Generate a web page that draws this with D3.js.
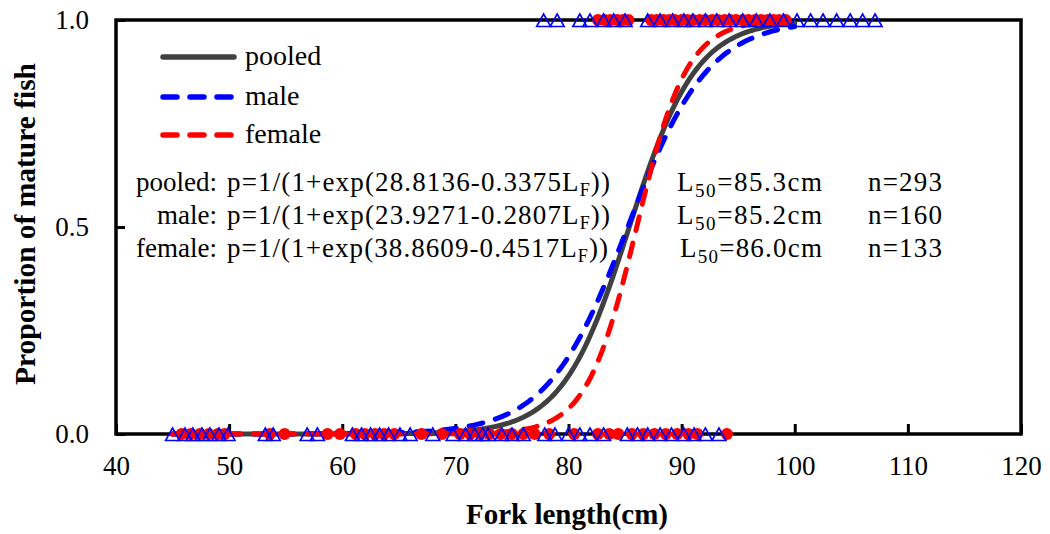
<!DOCTYPE html>
<html>
<head>
<meta charset="utf-8">
<script src="https://cdn.jsdelivr.net/npm/d3@7"></script>
<style>
  body { margin: 0; background: #fff; }
  svg text { font-family: "Times New Roman", "Liberation Serif", Tinos, "DejaVu Serif", serif; }
</style>
</head>
<body>
<script>
// Fork length (cm) of individual fish, immature (0) and mature (1)
const maleImmature = [45.0, 46.1, 46.8, 47.6, 48.3, 49.1, 49.9, 53.2, 53.9, 56.9, 57.8,
  60.9, 61.7, 62.5, 63.3, 64.1, 65.1, 66.0, 68.0, 69.8, 70.9, 71.7, 72.4, 72.9, 74.1,
  75.0, 76.0, 77.9, 78.8, 80.0, 81.0, 81.9, 83.1, 85.2, 86.1, 87.0, 88.1, 89.1, 90.2,
  91.1, 92.1, 93.3];
const femaleImmature = [45.8, 46.6, 47.4, 48.2, 49.0, 49.6, 53.6, 54.9, 58.7, 59.8,
  61.2, 62.0, 62.9, 63.7, 64.6, 67.0, 68.8, 70.4, 71.3, 72.2, 73.0, 74.0, 75.0, 76.0,
  77.0, 78.3, 80.5, 82.6, 83.6, 84.4, 85.6, 86.6, 87.6, 88.6, 89.6, 90.6, 91.4, 94.0];
const maleMature = [77.8, 79.0, 81.0, 81.9, 83.1, 84.0, 85.0, 87.0, 88.1, 89.2, 90.2,
  91.0, 92.1, 93.1, 94.2, 95.4, 96.6, 97.8, 99.0, 100.2, 101.4, 102.5, 103.7, 104.9,
  106.0, 107.1];
const femaleMature = [82.6, 83.2, 83.7, 84.3, 84.8, 85.3, 87.3, 87.8, 88.4, 88.9, 89.4,
  90.0, 90.5, 91.0, 91.6, 92.1, 92.7, 93.2, 93.8, 94.3, 94.8, 95.4, 95.9, 96.5, 97.0,
  97.6, 98.1, 98.6, 99.2];

// logistic fits as printed on the chart: p = 1/(1+exp(a - b*L))
const fitNames = ["pooled", "male", "female"];
const fitA = [28.8136, 23.9271, 38.8609];
const fitB = [0.3375, 0.2807, 0.4517];
const fitL50 = ["85.3", "85.2", "86.0"];
const fitN = [293, 160, 133];
const fitColors = ["#404040", "#0000ff", "#ff0000"];
const fitDash = [null, "14 13", "14 13"];

const xTicks = [40, 50, 60, 70, 80, 90, 100, 110, 120];
const yTicks = [0, 0.5, 1];

const FONT = "'Times New Roman', 'Liberation Serif', Tinos, 'DejaVu Serif', serif";
const W = 1050, H = 534;
const svg = d3.select("body").append("svg").attr("width", W).attr("height", H)
  .attr("font-family", FONT);

const x = d3.scaleLinear().domain([40, 120]).range([116, 1021]);
const y = d3.scaleLinear().domain([0, 1]).range([434, 20]);

// axes (ticks inside)
const xAxis = svg.append("g")
  .attr("transform", `translate(0,${y(0)})`)
  .call(d3.axisBottom(x).tickValues(xTicks).tickSizeInner(-10).tickSizeOuter(0).tickPadding(22));
const yAxis = svg.append("g")
  .attr("transform", `translate(${x(40)},0)`)
  .call(d3.axisLeft(y).tickValues(yTicks).tickFormat(d3.format(".1f"))
    .tickSizeInner(-9).tickSizeOuter(0).tickPadding(27));
[xAxis, yAxis].forEach(g => {
  g.attr("font-family", FONT).attr("font-size", 27);
  g.select(".domain").remove();
  g.selectAll("line").attr("stroke", "#000").attr("stroke-width", 3);
  g.selectAll("text").attr("fill", "#000");
});

// frame
svg.append("rect")
  .attr("x", x(40)).attr("y", y(1))
  .attr("width", x(120) - x(40)).attr("height", y(0) - y(1))
  .attr("fill", "none").attr("stroke", "#000").attr("stroke-width", 3.5);

// fitted curves
const curveX = d3.range(45, 100.01, 0.25);
const line = d3.line().x(d => x(d[0])).y(d => y(d[1]));
fitNames.forEach((name, i) => {
  const pts = curveX.map(L => [L, 1 / (1 + Math.exp(fitA[i] - fitB[i] * L))]);
  svg.append("path")
    .datum(pts)
    .attr("fill", "none")
    .attr("stroke", fitColors[i])
    .attr("stroke-width", 5)
    .attr("stroke-linecap", "round")
    .attr("stroke-dasharray", fitDash[i])
    .attr("d", line);
});

// observations
const tri = "M0,-7L7,5.5L-7,5.5Z";
function circles(vals, v) {
  svg.append("g").selectAll("circle").data(vals).join("circle")
    .attr("cx", d => x(d)).attr("cy", y(v)).attr("r", 6)
    .attr("fill", "#ff0000");
}
function triangles(vals, v) {
  svg.append("g").selectAll("path").data(vals).join("path")
    .attr("transform", d => `translate(${x(d)},${y(v) + 1})`)
    .attr("d", tri)
    .attr("fill", "none").attr("stroke", "#0000ff").attr("stroke-width", 1.6);
}
circles(femaleImmature, 0);
circles(femaleMature, 1);
triangles(maleImmature, 0);
triangles(maleMature, 1);

// legend
const legY = [57, 97, 135];
fitNames.forEach((name, i) => {
  svg.append("line")
    .attr("x1", 163).attr("x2", 234).attr("y1", legY[i]).attr("y2", legY[i])
    .attr("stroke", fitColors[i]).attr("stroke-width", 5.5)
    .attr("stroke-linecap", "round")
    .attr("stroke-dasharray", fitDash[i]);
  svg.append("text")
    .attr("x", 245).attr("y", legY[i] + 8)
    .attr("font-size", 28)
    .text(name);
});

// equations
const eqY = [191, 224, 257];
const formulaEnd = [610, 610, 608];
const l50Start = [677, 677, 680];
fitNames.forEach((name, i) => {
  svg.append("text")
    .attr("x", 217).attr("y", eqY[i]).attr("text-anchor", "end")
    .attr("font-size", 27).text(name + ":");
  const t = svg.append("text").attr("x", 227).attr("y", eqY[i]).attr("font-size", 27)
    .attr("textLength", formulaEnd[i] - 227).attr("lengthAdjust", "spacing");
  t.append("tspan").text(`p=1/(1+exp(${fitA[i].toFixed(4)}-${fitB[i].toFixed(4)}L`);
  t.append("tspan").attr("font-size", 18).attr("dy", 5).text("F");
  t.append("tspan").attr("dy", -5).text("))");

  const l = svg.append("text").attr("x", l50Start[i]).attr("y", eqY[i]).attr("font-size", 27)
    .attr("textLength", 822 - l50Start[i]).attr("lengthAdjust", "spacing");
  l.append("tspan").text("L");
  l.append("tspan").attr("font-size", 19).attr("dy", 6).text("50");
  l.append("tspan").attr("dy", -6).text(`=${fitL50[i]}cm`);

  svg.append("text").attr("x", 868).attr("y", eqY[i]).attr("font-size", 27)
    .attr("textLength", 74).attr("lengthAdjust", "spacing")
    .text(`n=${fitN[i]}`);
});

// axis titles
svg.append("text")
  .attr("x", 466).attr("y", 524)
  .attr("font-size", 29).attr("font-weight", "bold")
  .attr("textLength", 202).attr("lengthAdjust", "spacingAndGlyphs")
  .text("Fork length(cm)");
svg.append("text")
  .attr("transform", `translate(35,385) rotate(-90)`)
  .attr("font-size", 29).attr("font-weight", "bold")
  .attr("textLength", 322).attr("lengthAdjust", "spacingAndGlyphs")
  .text("Proportion of mature fish");
</script>
</body>
</html>
